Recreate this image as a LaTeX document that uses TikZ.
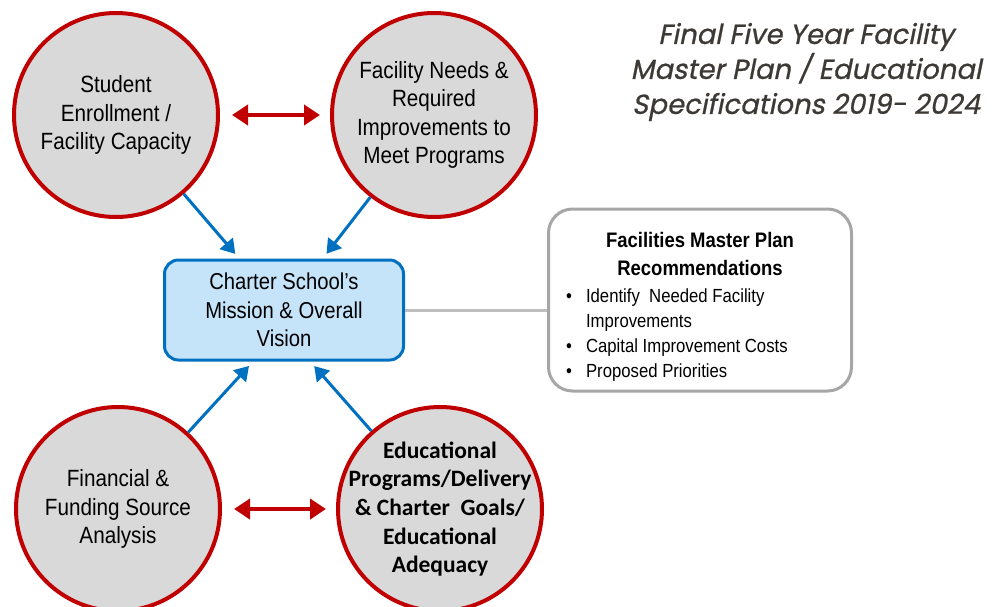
\documentclass[tikz,border=0pt]{standalone}
\usepackage{fontspec}
\setmainfont{Liberation Sans}[FakeStretch=0.88]
\newfontfamily\calfont{Carlito}
\newfontfamily\titrefont{Poppins}[FakeSlant=0.2,FakeBold=0.8]
\usetikzlibrary{arrows.meta}

\definecolor{rouge}{HTML}{C00000}
\definecolor{bleu}{HTML}{0070C0}
\definecolor{bleuclair}{HTML}{C5E4FA}
\definecolor{grisfond}{HTML}{D9D9D9}
\definecolor{grisbord}{HTML}{A6A6A6}
\definecolor{grisligne}{HTML}{BFBFBF}
\definecolor{titre}{HTML}{3D3935}

\begin{document}
\begin{tikzpicture}[x=1pt,y=-1pt,
  cercle/.style={circle,draw=rouge,line width=4pt,fill=grisfond,minimum size=204pt,
    inner sep=-25pt,align=center,font=\fontsize{23.5}{28.5}\selectfont},
  boite/.style={draw=bleu,line width=3pt,fill=bleuclair,rounded corners=14pt,
    minimum width=239pt,minimum height=100pt,align=center,font=\fontsize{23}{28.5}\selectfont},
  recobox/.style={draw=grisbord,line width=3pt,fill=white,rounded corners=24pt,
    minimum width=303pt,minimum height=182pt},
  double rouge/.style={draw=rouge,line width=4pt,
    {Triangle[length=16pt,width=20pt]}-{Triangle[length=16pt,width=20pt]},
    shorten <=12pt,shorten >=10pt},
  fleche bleue/.style={draw=bleu,line width=3pt,-{Triangle[length=14pt,width=17pt]},
    shorten >=6pt}]
  \useasboundingbox (0,0) rectangle (1001,606);
  \clip (0,0) rectangle (1001,606);

  % Titre
  \node[align=center,text=titre,font=\titrefont\fontsize{27.5}{35}\selectfont] (titre)
    at (806,72) {Final Five Year Facility\\Master Plan / Educational\\Specifications 2019- 2024};

  % Cercles
  \node[cercle] (effectifs) at (116,115) {Student\\Enrollment /\\Facility Capacity};
  \node[cercle] (besoins) at (434,115) {Facility Needs \&\\Required\\Improvements to\\Meet Programs};
  \node[cercle] (finances) at (118,509) {Financial \&\\Funding Source\\Analysis};
  \node[cercle,font=\calfont\bfseries\fontsize{23.5}{28.7}\selectfont] (programmes) at (440,509)
    {Educational\\Programs/Delivery\\\& Charter\ \ Goals/\\Educational\\Adequacy};

  % Mission
  \node[boite] (mission) at (284,310) {Charter School’s\\Mission \& Overall\\Vision};

  % Recommandations
  \node[recobox] (reco) at (700,300) {};
  \node[align=center,font=\bfseries\fontsize{21}{28}\selectfont] (recotitre) at (700,254)
    {Facilities Master Plan\\Recommendations};
  \node[anchor=north west,inner sep=0pt,font=\fontsize{19}{25}\selectfont] (recoliste) at (566,285)
    {\begin{tabular}{@{}l@{\hspace{14pt}}l@{}}
      \textbullet & Identify\ \ Needed Facility\\
                  & Improvements\\
      \textbullet & Capital Improvement Costs\\
      \textbullet & Proposed Priorities
    \end{tabular}};
  \draw[grisligne,line width=3pt] (mission.east) -- (mission.east -| reco.west);

  % Fleches
  \draw[double rouge] (effectifs) -- (besoins);
  \draw[double rouge] (finances) -- (programmes);
  \draw[fleche bleue] (effectifs) -- (mission.131);
  \draw[fleche bleue] (besoins) -- (mission.53);
  \draw[fleche bleue] (finances) -- (mission.239);
  \draw[fleche bleue] (programmes) -- (mission.297);
\end{tikzpicture}
\end{document}
